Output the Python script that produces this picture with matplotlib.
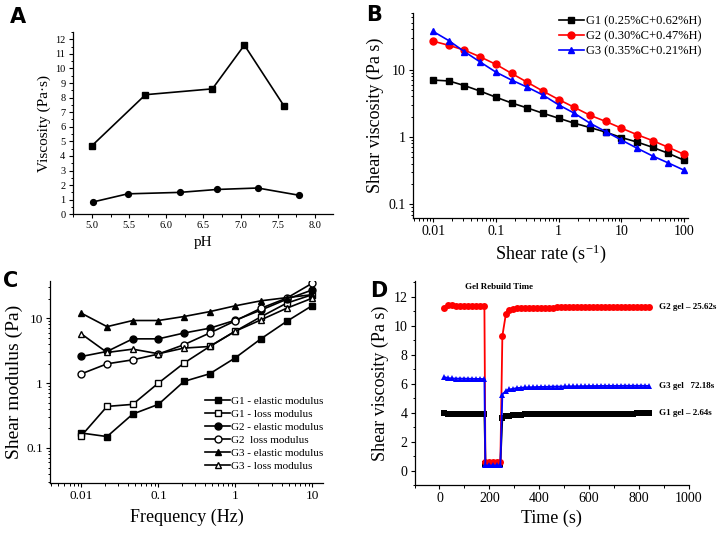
import matplotlib
matplotlib.use("Agg")
from matplotlib import pyplot as plt
from matplotlib.ticker import MultipleLocator, LogLocator, NullFormatter, FixedLocator, FixedFormatter

plt.rcParams['font.family'] = ['Liberation Serif', 'DejaVu Serif']
plt.rcParams['mathtext.fontset'] = 'stix'

# ---- panel A: viscosity vs pH ----
a_ph_sq = [5.0, 5.72, 6.62, 7.05, 7.58]
a_visc_sq = [4.7, 8.2, 8.6, 11.6, 7.45]
a_ph_ci = [5.02, 5.48, 6.18, 6.68, 7.23, 7.79]
a_visc_ci = [0.85, 1.4, 1.5, 1.7, 1.8, 1.3]

# ---- panel B: flow curves ----
b_rate = [0.01, 0.0178, 0.0316, 0.0562, 0.1, 0.178, 0.316, 0.562, 1.0,
          1.78, 3.16, 5.62, 10.0, 17.8, 31.6, 56.2, 100.0]
b_g1 = [7.0, 6.8, 5.8, 4.8, 3.9, 3.2, 2.7, 2.25, 1.9, 1.6, 1.38, 1.18, 0.98, 0.84, 0.7, 0.57, 0.45]
b_g2 = [26.5, 23.0, 19.5, 15.5, 12.0, 8.8, 6.5, 4.8, 3.6, 2.75, 2.1, 1.7, 1.35, 1.08, 0.88, 0.7, 0.55]
b_g3 = [37.0, 27.0, 18.5, 13.0, 9.2, 7.0, 5.5, 4.2, 3.0, 2.25, 1.6, 1.2, 0.9, 0.68, 0.52, 0.41, 0.32]
b_labels = ['G1 (0.25%C+0.62%H)', 'G2 (0.30%C+0.47%H)', 'G3 (0.35%C+0.21%H)']

# ---- panel C: frequency sweep ----
c_freq = [0.01, 0.0215, 0.0464, 0.1, 0.215, 0.464, 1.0, 2.15, 4.64, 10.0]
c_g1_el = [0.17, 0.15, 0.333, 0.47, 1.06, 1.39, 2.45, 4.8, 8.9, 15.6]
c_g1_loss = [0.155, 0.437, 0.47, 1.0, 2.03, 3.66, 6.3, 10.5, 17.0, 23.0]
c_g2_el = [2.57, 3.07, 4.8, 4.8, 5.9, 7.0, 9.3, 13.3, 19.5, 27.2]
c_g2_loss = [1.39, 1.98, 2.28, 2.8, 3.9, 5.9, 9.1, 14.2, 20.3, 34.5]
c_g3_el = [11.9, 7.4, 9.2, 9.2, 10.6, 12.6, 15.5, 18.5, 20.7, 23.0]
c_g3_loss = [5.7, 2.96, 3.33, 2.83, 3.46, 3.66, 6.3, 9.4, 14.2, 20.3]
c_labels = ['G1 - elastic modulus', 'G1 - loss modulus', 'G2 - elastic modulus',
            'G2  loss modulus', 'G3 - elastic modulus', 'G3 - loss modulus']

# ---- panel D: thixotropy (time in s) ----
d_t_pre = [20, 36, 52, 68, 84, 100, 116, 132, 148, 164, 180]
d_t_low = [184, 200, 216, 232, 244]
d_t_post = [252, 266, 280, 296, 312, 328, 344, 360, 376, 392, 408, 424, 440, 456, 472,
            488, 504, 520, 536, 552, 568, 584, 600, 616, 632, 648, 664, 680, 696, 712,
            728, 744, 760, 776, 792, 808, 824, 840]
d_g1_pre = [3.95, 3.94, 3.94, 3.94, 3.94, 3.94, 3.94, 3.94, 3.94, 3.94, 3.94]
d_g1_low = [0.45, 0.45, 0.45, 0.45, 0.45]
d_g1_post = [3.6, 3.75, 3.8, 3.84, 3.86, 3.87, 3.88, 3.88, 3.89, 3.89, 3.9, 3.9, 3.9, 3.91,
             3.91, 3.91, 3.92, 3.92, 3.92, 3.92, 3.93, 3.93, 3.93, 3.93, 3.93, 3.93, 3.94,
             3.94, 3.94, 3.94, 3.94, 3.94, 3.94, 3.94, 3.95, 3.95, 3.95, 3.95]
d_g2_pre = [11.2, 11.45, 11.42, 11.4, 11.4, 11.4, 11.4, 11.38, 11.38, 11.38, 11.38]
d_g2_low = [0.58, 0.58, 0.58, 0.58, 0.58]
d_g2_post = [9.3, 10.8, 11.1, 11.18, 11.2, 11.22, 11.23, 11.24, 11.25, 11.25, 11.25, 11.25,
             11.26, 11.26, 11.27, 11.27, 11.28, 11.3, 11.27, 11.28, 11.28, 11.29, 11.3, 11.3,
             11.28, 11.3, 11.3, 11.31, 11.3, 11.3, 11.32, 11.3, 11.31, 11.3, 11.32, 11.3,
             11.31, 11.3]
d_g3_pre = [6.45, 6.38, 6.36, 6.35, 6.35, 6.35, 6.34, 6.34, 6.33, 6.33, 6.32]
d_g3_low = [0.35, 0.35, 0.35, 0.35, 0.35]
d_g3_post = [5.25, 5.5, 5.6, 5.65, 5.7, 5.72, 5.74, 5.75, 5.76, 5.77, 5.78, 5.78, 5.79, 5.8,
             5.8, 5.8, 5.81, 5.82, 5.82, 5.82, 5.83, 5.83, 5.84, 5.84, 5.84, 5.85, 5.85, 5.85,
             5.85, 5.85, 5.85, 5.86, 5.85, 5.86, 5.85, 5.86, 5.85, 5.85]
d_notes = ['G2 gel – 25.62s', 'G3 gel   72.18s', 'G1 gel – 2.64s']


def style_axes(ax, size):
    for side in ['top', 'right']:
        ax.spines[side].set_visible(False)
    for side in ['left', 'bottom']:
        ax.spines[side].set_linewidth(0.9)
    ax.tick_params(which='major', direction='out', length=3.2, width=0.8, labelsize=size, pad=2)
    ax.tick_params(which='minor', direction='out', length=1.8, width=0.7)


fig = plt.figure(figsize=(7.26, 5.33), dpi=100)

# A
axA = fig.add_axes([0.100, 0.598, 0.3585, 0.342])
axA.plot(a_ph_sq, a_visc_sq, color='black', lw=1.2, marker='s', ms=4)
axA.plot(a_ph_ci, a_visc_ci, color='black', lw=1.2, marker='o', ms=4.2)
axA.set_xlim(4.74, 8.24)
axA.set_ylim(0, 12.5)
axA.xaxis.set_major_locator(MultipleLocator(0.5))
axA.xaxis.set_minor_locator(MultipleLocator(0.25))
axA.yaxis.set_major_locator(MultipleLocator(1))
axA.yaxis.set_minor_locator(MultipleLocator(0.5))
axA.xaxis.set_major_formatter(plt.FormatStrFormatter('%.1f'))
style_axes(axA, 7.5)
axA.set_xlabel('pH', fontsize=11, labelpad=4)
axA.set_ylabel('Viscosity (Pa·s)', fontsize=11, labelpad=3)

# B
axB = fig.add_axes([0.569, 0.591, 0.379, 0.385])
axB.plot(b_rate, b_g1, color='black', lw=1.2, marker='s', ms=4.5, label=b_labels[0])
axB.plot(b_rate, b_g2, color='#ff0000', lw=1.2, marker='o', ms=5, label=b_labels[1])
axB.plot(b_rate, b_g3, color='#0000ff', lw=1.2, marker='^', ms=5, label=b_labels[2])
axB.set_xscale('log')
axB.set_yscale('log')
axB.set_xlim(0.0048, 116)
axB.set_ylim(0.0625, 70)
axB.xaxis.set_major_locator(FixedLocator([0.01, 0.1, 1, 10, 100]))
axB.xaxis.set_major_formatter(FixedFormatter(['0.01', '0.1', '1', '10', '100']))
axB.yaxis.set_major_locator(FixedLocator([0.1, 1, 10]))
axB.yaxis.set_major_formatter(FixedFormatter(['0.1', '1', '10']))
axB.xaxis.set_minor_locator(LogLocator(base=10, subs=range(2, 10), numticks=20))
axB.yaxis.set_minor_locator(LogLocator(base=10, subs=range(2, 10), numticks=20))
axB.xaxis.set_minor_formatter(NullFormatter())
axB.yaxis.set_minor_formatter(NullFormatter())
style_axes(axB, 10)
axB.set_xlabel(r'Shear rate (s$^{\mathregular{-1}}$)', fontsize=13, labelpad=3)
axB.set_ylabel('Shear viscosity (Pa s)', fontsize=13, labelpad=3)
axB.legend(loc='upper right', bbox_to_anchor=(1.08, 1.03), frameon=False, fontsize=9,
           handlelength=2.0, handletextpad=0.2, labelspacing=0.25, borderpad=0.2)

# C
axC = fig.add_axes([0.0689, 0.094, 0.376, 0.379])
mk = dict(color='black', lw=1.2, ms=5)
axC.plot(c_freq, c_g1_el, marker='s', label=c_labels[0], **mk)
axC.plot(c_freq, c_g1_loss, marker='s', mfc='white', label=c_labels[1], **mk)
axC.plot(c_freq, c_g2_el, marker='o', label=c_labels[2], **mk)
axC.plot(c_freq, c_g2_loss, marker='o', mfc='white', label=c_labels[3], **mk)
axC.plot(c_freq, c_g3_el, marker='^', label=c_labels[4], **mk)
axC.plot(c_freq, c_g3_loss, marker='^', mfc='white', label=c_labels[5], **mk)
axC.set_xscale('log')
axC.set_yscale('log')
axC.set_xlim(0.0039, 13.8)
axC.set_ylim(0.029, 37.5)
axC.xaxis.set_major_locator(FixedLocator([0.01, 0.1, 1, 10]))
axC.xaxis.set_major_formatter(FixedFormatter(['0.01', '0.1', '1', '10']))
axC.yaxis.set_major_locator(FixedLocator([0.1, 1, 10]))
axC.yaxis.set_major_formatter(FixedFormatter(['0.1', '1', '10']))
axC.xaxis.set_minor_locator(LogLocator(base=10, subs=range(2, 10), numticks=20))
axC.yaxis.set_minor_locator(LogLocator(base=10, subs=range(2, 10), numticks=20))
axC.xaxis.set_minor_formatter(NullFormatter())
axC.yaxis.set_minor_formatter(NullFormatter())
style_axes(axC, 9.5)
axC.set_xlabel('Frequency (Hz)', fontsize=13, labelpad=5)
axC.set_ylabel('Shear modulus (Pa)', fontsize=14, labelpad=2)
axC.legend(loc='lower right', bbox_to_anchor=(1.03, 0.02), frameon=False, fontsize=8,
           handlelength=2.2, handletextpad=0.1, labelspacing=0.3, borderpad=0.2)

# D
axD = fig.add_axes([0.571, 0.090, 0.378, 0.383])
for pre, low, post, col, m, s in [(d_g1_pre, d_g1_low, d_g1_post, 'black', 's', 4.3),
                                  (d_g2_pre, d_g2_low, d_g2_post, '#ff0000', 'o', 5.0),
                                  (d_g3_pre, d_g3_low, d_g3_post, '#0000ff', '^', 4.8)]:
    axD.plot(d_t_pre + d_t_low + d_t_post, pre + low + post, color=col, lw=1.3,
             marker=m, ms=s, mew=0)
axD.set_xlim(-100, 1000)
axD.set_ylim(-1, 13.1)
axD.xaxis.set_major_locator(MultipleLocator(200))
axD.xaxis.set_minor_locator(MultipleLocator(100))
axD.yaxis.set_major_locator(FixedLocator([0, 2, 4, 6, 8, 10, 12]))
axD.yaxis.set_minor_locator(MultipleLocator(1))
style_axes(axD, 10)
axD.set_xlabel('Time (s)', fontsize=13, labelpad=3)
axD.set_ylabel('Shear viscosity (Pa s)', fontsize=13, labelpad=3)
axD.text(102, 12.7, 'Gel Rebuild Time', fontsize=6.5, fontweight='bold', va='center')
for note, yv in zip(d_notes, [d_g2_post[-1], d_g3_post[-1], d_g1_post[-1]]):
    axD.text(878, yv, note, fontsize=6.5, fontweight='bold', va='center')

# panel letters
for lab, x, y in [('A', 10, 7), ('B', 366, 5), ('C', 3, 271), ('D', 370, 281)]:
    fig.text(x / 726, 1 - y / 533, lab, fontsize=15, fontweight='heavy',
             family='DejaVu Sans', va='top', ha='left')

fig.savefig('out.png', dpi=100)
plt.close()
